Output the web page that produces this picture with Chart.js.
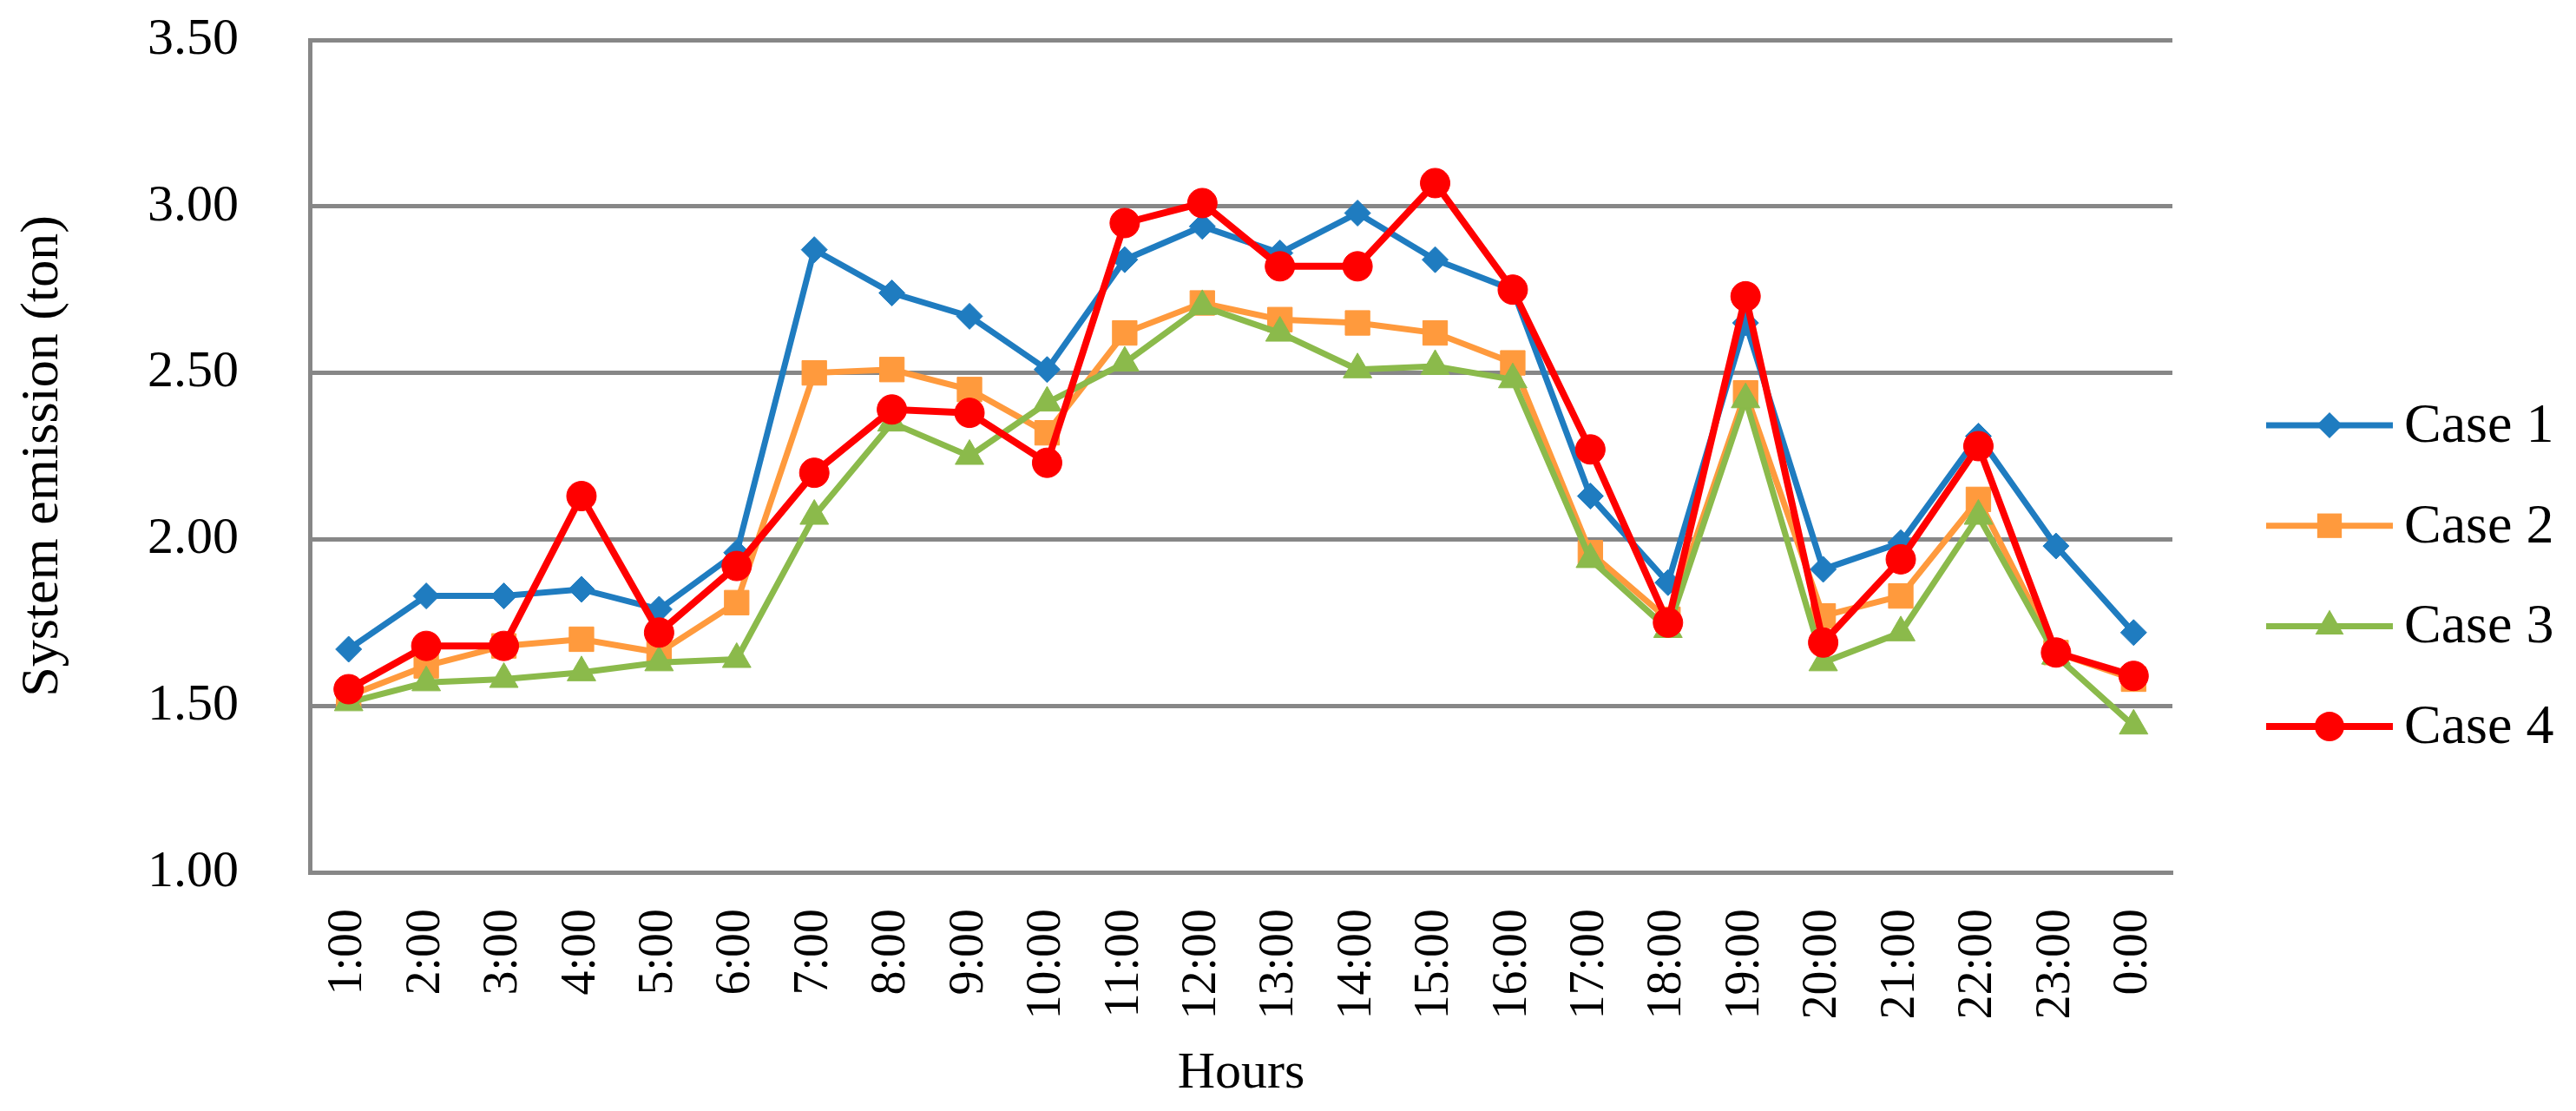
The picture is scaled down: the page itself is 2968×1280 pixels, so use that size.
<!DOCTYPE html>
<html>
<head>
<meta charset="utf-8">
<script src="https://cdn.jsdelivr.net/npm/chart.js@4/dist/chart.umd.min.js"></script>
<style>
    body { margin: 0; background: #ffffff; }
    #wrap { width: 2968px; height: 1280px; }
</style>
</head>
<body>
<div id="wrap"><canvas id="emission_graph" width="2968" height="1280"></canvas></div>
<script>

const hours = ["1:00", "2:00", "3:00", "4:00", "5:00", "6:00", "7:00", "8:00", "9:00", "10:00", "11:00", "12:00",
               "13:00", "14:00", "15:00", "16:00", "17:00", "18:00", "19:00", "20:00", "21:00", "22:00", "23:00", "0:00"];

const case_1 = [1.67, 1.83, 1.83, 1.85, 1.79, 1.96, 2.87, 2.74, 2.67, 2.51, 2.84, 2.94,
                2.86, 2.98, 2.84, 2.75, 2.13, 1.87, 2.65, 1.91, 1.99, 2.31, 1.98, 1.72];
const case_2 = [1.53, 1.62, 1.68, 1.70, 1.66, 1.81, 2.50, 2.51, 2.45, 2.32, 2.62, 2.71,
                2.66, 2.65, 2.62, 2.53, 1.96, 1.76, 2.44, 1.77, 1.83, 2.12, 1.66, 1.58];
const case_3 = [1.51, 1.57, 1.58, 1.60, 1.63, 1.64, 2.07, 2.35, 2.25, 2.41, 2.53, 2.70,
                2.62, 2.51, 2.52, 2.48, 1.94, 1.73, 2.42, 1.63, 1.72, 2.07, 1.65, 1.44];
const case_4 = [1.55, 1.68, 1.68, 2.13, 1.72, 1.92, 2.20, 2.39, 2.38, 2.23, 2.95, 3.01,
                2.82, 2.82, 3.07, 2.75, 2.27, 1.75, 2.73, 1.69, 1.94, 2.28, 1.66, 1.59];

const case_names  = ["Case 1", "Case 2", "Case 3", "Case 4"];
const y_ticks     = [1.00, 1.50, 2.00, 2.50, 3.00, 3.50];

const serif     = "'Liberation Serif', 'Times New Roman', serif";
const grid_gray = "#878787";

function make_dataset(label, data, color, style, radius, width, order){
    return {
        label: label,
        data: data,
        borderColor: color,
        backgroundColor: color,
        borderWidth: width,
        pointStyle: style,
        pointRadius: radius,
        pointHoverRadius: radius,
        pointBackgroundColor: color,
        pointBorderColor: color,
        pointBorderWidth: 1,
        tension: 0,
        order: order
    };
}

// draws marker shapes for the legend (same shapes as chart points)
function draw_marker(ctx, style, r, x, y, color){
    ctx.save();
    ctx.fillStyle = color;
    ctx.beginPath();
    if (style === "rectRot"){
        ctx.moveTo(x - r, y);
        ctx.lineTo(x, y - r);
        ctx.lineTo(x + r, y);
        ctx.lineTo(x, y + r);
    }else if (style === "rect"){
        let s = Math.SQRT1_2 * r;
        ctx.rect(x - s, y - s, 2 * s, 2 * s);
    }else if (style === "triangle"){
        for (let k = 0; k < 3; k++){
            let a = k * 2 * Math.PI / 3;
            ctx.lineTo(x + Math.sin(a) * r, y - Math.cos(a) * r);
        }
    }else{
        ctx.arc(x, y, r, 0, Math.PI * 2);
    }
    ctx.closePath();
    ctx.fill();
    ctx.restore();
}

const side_legend = {
    id: "side_legend",
    afterDraw(chart){
        const ctx   = chart.ctx;
        const area  = chart.chartArea;
        let x0      = area.right + 108;
        let x1      = x0 + 146;
        let row_y   = area.top + 444;
        chart.data.datasets.forEach(function(ds){
            ctx.save();
            ctx.strokeStyle = ds.borderColor;
            ctx.lineWidth   = ds.borderWidth;
            ctx.beginPath();
            ctx.moveTo(x0, row_y);
            ctx.lineTo(x1, row_y);
            ctx.stroke();
            ctx.restore();
            draw_marker(ctx, ds.pointStyle, ds.pointRadius, (x0 + x1) / 2, row_y, ds.borderColor);

            ctx.save();
            ctx.fillStyle       = "#000000";
            ctx.font            = "64px " + serif;
            ctx.textAlign       = "left";
            ctx.textBaseline    = "middle";
            ctx.fillText(ds.label, x1 + 13, row_y + 2);
            ctx.restore();
            row_y += 115.7;
        });
    }
};

window.addEventListener("load", function (){

    const ctx = document.getElementById("emission_graph").getContext("2d");
    const myChart = new Chart(ctx, {
        type: "line",
        data: {
            labels: hours,
            datasets: [
                make_dataset(case_names[0], case_1, "#1f7cc0", "rectRot", 15, 7, 4),
                make_dataset(case_names[1], case_2, "#ff9a3d", "rect", 20, 7, 3),
                make_dataset(case_names[2], case_3, "#8bba4b", "triangle", 19, 7, 2),
                make_dataset(case_names[3], case_4, "#ff0000", "circle", 17, 8, 1)
            ]
        },
        options: {
            responsive: false,
            animation: false,
            layout: {
                padding: { top: 46, right: 465, bottom: 0, left: 0 }
            },
            scales: {
                x: {
                    offset: true,
                    grid: { display: false, drawTicks: false },
                    border: { display: true, color: grid_gray, width: 5 },
                    ticks: {
                        autoSkip: false,
                        maxRotation: 90,
                        minRotation: 90,
                        padding: 42,
                        color: "#000000",
                        font: { family: serif, size: 56 }
                    },
                    title: {
                        display: true,
                        text: "Hours",
                        color: "#000000",
                        font: { family: serif, size: 60 },
                        padding: { top: 0, bottom: 7 }
                    },
                    afterFit: function(scale){ scale.height = 275; }
                },
                y: {
                    min: y_ticks[0],
                    max: y_ticks[y_ticks.length - 1],
                    afterBuildTicks: function(scale){
                        scale.ticks = y_ticks.map(function(v){ return { value: v }; });
                    },
                    grid: { color: grid_gray, lineWidth: 5, drawTicks: false },
                    border: { display: true, color: grid_gray, width: 5 },
                    ticks: {
                        padding: 82,
                        color: "#000000",
                        font: { family: serif, size: 60 },
                        callback: function(v){ return Number(v).toFixed(2); }
                    },
                    title: {
                        display: true,
                        text: "System emission (ton)",
                        color: "#000000",
                        font: { family: serif, size: 62 },
                        padding: { top: 13, bottom: 0 }
                    },
                    afterFit: function(scale){
                        scale.width         = 357;
                        scale.paddingTop    = 0;
                        scale.paddingBottom = 0;
                    }
                }
            },
            plugins: {
                legend: { display: false },
                tooltip: { enabled: false }
            }
        },
        plugins: [ side_legend ]
    });
});
</script>
</body>
</html>
